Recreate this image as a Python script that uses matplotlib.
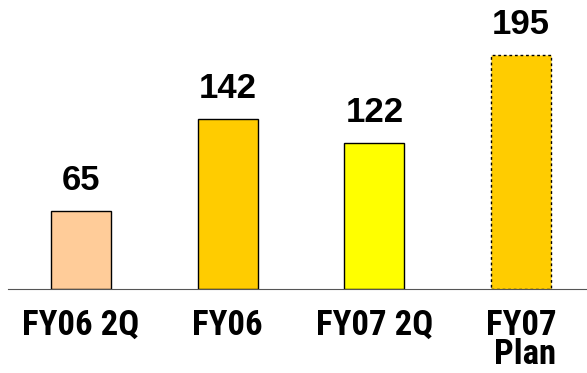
import matplotlib.pyplot as plt
from matplotlib.transforms import blended_transform_factory

categories = ['FY06 2Q', 'FY06', 'FY07 2Q', 'FY07\nPlan']
values = [65, 142, 122, 195]
colors = ['#FFCC99', '#FFCC00', '#FFFF00', '#FFCC00']
linestyles = ['solid', 'solid', 'solid', (0, (2, 2))]

narrow = ['Roboto Condensed', 'Archivo Narrow', 'DejaVu Sans']

fig = plt.figure(figsize=(5.87, 3.73), dpi=100)
ax = fig.add_axes([8 / 587, 84 / 373, 579 / 587, 289 / 373])

x = list(range(len(categories)))
bars = ax.bar(x, values, width=0.41, color=colors, edgecolor='black', linewidth=1)
for b, ls in zip(bars, linestyles):
    b.set_linestyle(ls)

ax.set_xlim(-0.497, 3.449)
ax.set_ylim(0, 289 / 1.2)

# value labels above the bars
for xi, v in zip(x, values):
    ax.annotate(str(v), (xi, v), xytext=(0, 15), textcoords='offset points',
                ha='center', va='baseline', fontsize=25, fontweight='bold',
                family=['Liberation Sans', 'DejaVu Sans'])

# category labels under the baseline
trans = blended_transform_factory(ax.transData, ax.transAxes)
for xi, lab in zip(x, categories):
    ax.text(xi, -0.07, lab, transform=trans, ha='center', va='top',
            multialignment='right', fontsize=25, fontweight='bold',
            family=narrow, linespacing=0.85)

for s in ['top', 'right', 'left']:
    ax.spines[s].set_visible(False)
ax.spines['bottom'].set_color('#555555')
ax.set_xticks([])
ax.set_yticks([])

fig.savefig('out.png', dpi=100)
